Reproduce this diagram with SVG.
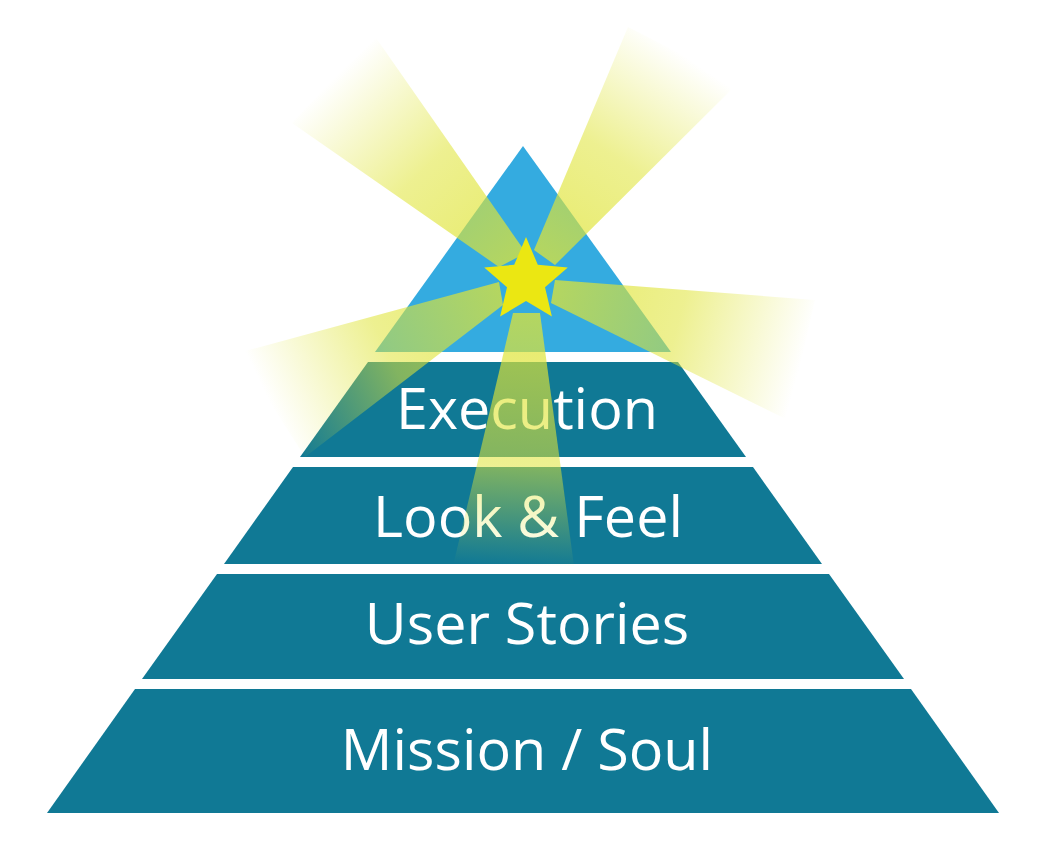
<svg xmlns="http://www.w3.org/2000/svg" width="1044" height="861" viewBox="0 0 1044 861">
<style>
.tier{fill:#107995}
.lbl{fill:#ffffff;font-family:"Open Sans","Noto Sans","Liberation Sans",sans-serif;font-size:57.5px;text-anchor:middle}
</style>
<defs>
<linearGradient id="gUL" gradientUnits="userSpaceOnUse" x1="512" y1="262" x2="333" y2="79">
<stop offset="0" stop-color="#dfe436" stop-opacity="0.75"/><stop offset="0.5" stop-color="#dfe436" stop-opacity="0.55"/><stop offset="1" stop-color="#dfe436" stop-opacity="0"/>
</linearGradient>
<linearGradient id="gUR" gradientUnits="userSpaceOnUse" x1="545" y1="258" x2="683" y2="55">
<stop offset="0" stop-color="#dfe436" stop-opacity="0.75"/><stop offset="0.5" stop-color="#dfe436" stop-opacity="0.55"/><stop offset="1" stop-color="#dfe436" stop-opacity="0"/>
</linearGradient>
<linearGradient id="gR" gradientUnits="userSpaceOnUse" x1="553" y1="291" x2="802" y2="360">
<stop offset="0" stop-color="#dfe436" stop-opacity="0.75"/><stop offset="0.5" stop-color="#dfe436" stop-opacity="0.55"/><stop offset="1" stop-color="#dfe436" stop-opacity="0"/>
</linearGradient>
<linearGradient id="gL" gradientUnits="userSpaceOnUse" x1="501" y1="293" x2="271" y2="405">
<stop offset="0" stop-color="#dfe436" stop-opacity="0.75"/><stop offset="0.5" stop-color="#dfe436" stop-opacity="0.55"/><stop offset="1" stop-color="#dfe436" stop-opacity="0"/>
</linearGradient>
<linearGradient id="gD" gradientUnits="userSpaceOnUse" x1="526" y1="313" x2="513" y2="566">
<stop offset="0" stop-color="#dfe436" stop-opacity="0.75"/><stop offset="0.6" stop-color="#dfe436" stop-opacity="0.55"/><stop offset="1" stop-color="#dfe436" stop-opacity="0"/>
</linearGradient>
</defs>
<rect width="1044" height="861" fill="#ffffff"/>
<g id="apex"><polygon points="523,146 671,352 375,352" fill="#34abe0"/></g>
<g id="execution"><polygon class="tier" points="368,362 678,362 746,457 300,457"/><text class="lbl" x="527" y="429">Execution</text></g>
<g id="look-feel"><polygon class="tier" points="293,467 753,467 822,564 224,564"/><text class="lbl" x="528" y="537">Look &amp; Feel</text></g>
<g id="user-stories"><polygon class="tier" points="217,574 829,574 904,679 142,679"/><text class="lbl" x="527" y="644">User Stories</text></g>
<g id="mission-soul"><polygon class="tier" points="135,689 911,689 999,813 47,813"/><text class="lbl" x="527" y="770">Mission / Soul</text></g>
<g id="beams">
<polygon points="526,253 374,35 292,123 499,267" fill="url(#gUL)"/>
<polygon points="534,250 628,27 738,83 555,265" fill="url(#gUR)"/>
<polygon points="555,280 815,300 788,420 551,303" fill="url(#gR)"/>
<polygon points="499,282 238,353 305,457 503,305" fill="url(#gL)"/>
<polygon points="513,313 453,566 574,566 540,313" fill="url(#gD)"/>
</g>
<g id="star"><polygon points="526,237 537.8,264.8 567.8,267.4 545,287.2 551.9,316.6 526,301 500.1,316.6 507,287.2 484.2,267.4 514.2,264.8" fill="#ebe712"/></g>
</svg>
